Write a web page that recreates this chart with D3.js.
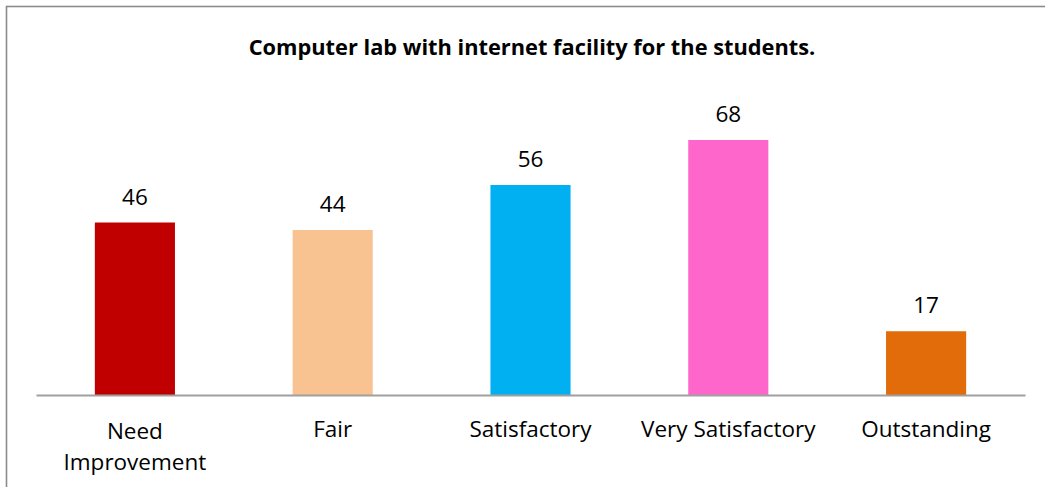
<!DOCTYPE html>
<html>
<head>
<meta charset="utf-8">
<script src="https://cdn.jsdelivr.net/npm/d3@7"></script>
<style>
  html, body { margin: 0; padding: 0; background: #fff; overflow: hidden; }
  svg { display: block; }
</style>
</head>
<body>
<svg id="chart" width="1045" height="487"></svg>
<script>
// Survey responses: computer lab with internet facility
const categories = ["Need Improvement", "Fair", "Satisfactory", "Very Satisfactory", "Outstanding"];
const values = [46, 44, 56, 68, 17];
const colors = ["#C00000", "#F8C291", "#00B0F0", "#FF66CC", "#E26B0A"];
const titleText = "Computer lab with internet facility for the students.";

const W = 1045, H = 487;
const svg = d3.select("#chart");
const fontFam = "'Open Sans', Lato, sans-serif";

// Outer chart frame
svg.append("rect")
  .attr("x", 6.5).attr("y", 6.5)
  .attr("width", W + 10).attr("height", H + 10)
  .attr("fill", "#fff")
  .attr("stroke", "#8c8c8c").attr("stroke-width", 1.6);

const baseline = 395;
const x = d3.scaleBand()
  .domain(categories)
  .range([36, 1025])
  .paddingInner(0.595)
  .paddingOuter(0.2975);

const y = d3.scaleLinear()
  .domain([0, 68])
  .range([baseline, 140]);

// Title
svg.append("text")
  .attr("x", 532).attr("y", 55)
  .attr("text-anchor", "middle")
  .attr("font-family", fontFam)
  .attr("font-weight", "bold")
  .attr("font-size", 21.8)
  .attr("fill", "#000")
  .text(titleText);

// Bars
svg.selectAll("rect.bar")
  .data(categories)
  .join("rect")
  .attr("class", "bar")
  .attr("x", d => x(d))
  .attr("width", x.bandwidth())
  .attr("y", (d, i) => y(values[i]))
  .attr("height", (d, i) => baseline - y(values[i]))
  .attr("fill", (d, i) => colors[i]);

// Value labels
svg.selectAll("text.val")
  .data(categories)
  .join("text")
  .attr("class", "val")
  .attr("x", d => x(d) + x.bandwidth() / 2)
  .attr("y", (d, i) => y(values[i]) - 18)
  .attr("text-anchor", "middle")
  .attr("font-family", fontFam)
  .attr("font-size", 22.5)
  .attr("fill", "#000")
  .text((d, i) => values[i]);

// Category axis
const axis = svg.append("g")
  .attr("transform", `translate(0,${baseline})`)
  .call(d3.axisBottom(x).tickSize(0).tickFormat(""));
axis.select(".domain").attr("stroke", "#a0a0a0").attr("stroke-width", 2);

// Category labels, wrapped to fit each band
const labelLines = {
  "Need Improvement": ["Need", "Improvement"]
};
categories.forEach(c => {
  const lines = labelLines[c] || [c];
  const t = svg.append("text")
    .attr("x", x(c) + x.bandwidth() / 2)
    .attr("y", lines.length > 1 ? 439 : 437)
    .attr("text-anchor", "middle")
    .attr("font-family", fontFam)
    .attr("font-size", 22.5)
    .attr("fill", "#000");
  lines.forEach((l, i) => {
    t.append("tspan")
      .attr("x", x(c) + x.bandwidth() / 2)
      .attr("dy", i === 0 ? 0 : 31)
      .text(l);
  });
});
</script>
</body>
</html>
